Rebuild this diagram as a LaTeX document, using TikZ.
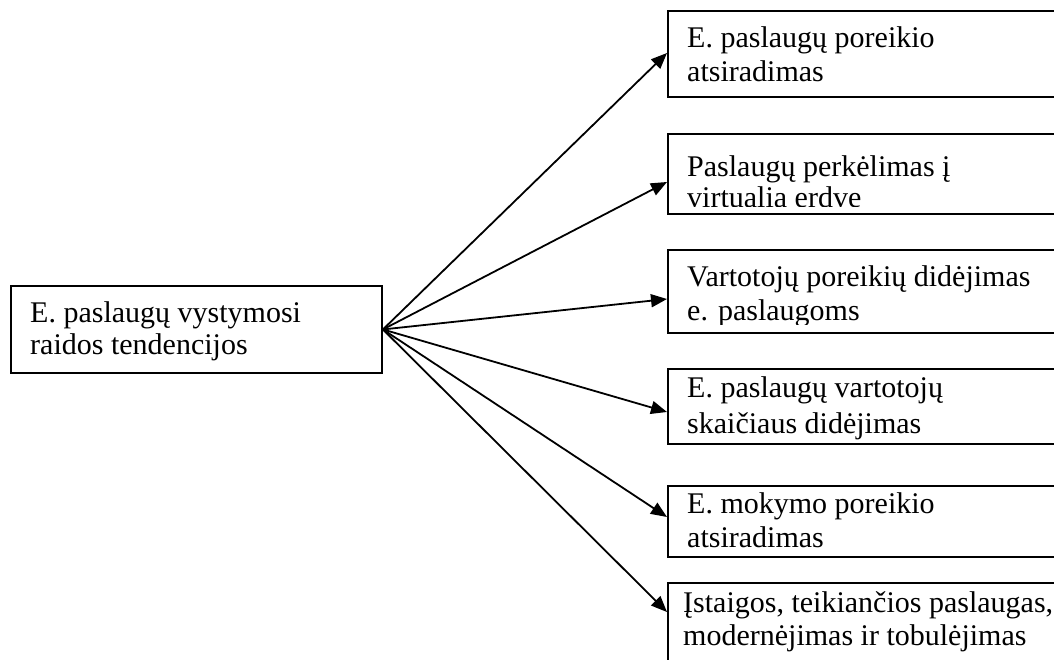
\documentclass[tikz,border=0pt]{standalone}
\usepackage{fontspec}
\setmainfont{Liberation Serif}
\usetikzlibrary{arrows.meta}
\tikzset{
  box/.style={draw, line width=1.9pt, inner sep=0pt, anchor=north west},
  rbox/.style={box, minimum width=403pt},
  txt/.style={inner sep=0pt, anchor=base west, font=\fontsize{30}{34}\selectfont},
  conn/.style={line width=1.8pt, -{Triangle[length=16pt,width=13pt]}}
}
\begin{document}
\begin{tikzpicture}[x=1pt,y=-1pt]
\useasboundingbox (0,0) rectangle (1054,660);
\clip (0,0) rectangle (1054,660);
% source box
\node[box, minimum width=371pt, minimum height=87pt] (src) at (10,285) {};
\node[txt] (s1) at (30,322) {E. paslaugų vystymosi};
\node[txt] (s2) at (30,354) {raidos tendencijos};
% target boxes
\node[rbox, minimum height=86pt] (b1) at (667,10) {};
\node[rbox, minimum height=80pt] (b2) at (667,133) {};
\node[rbox, minimum height=83pt] (b3) at (667,249) {};
\node[rbox, minimum height=75pt] (b4) at (667,368) {};
\node[rbox, minimum height=71pt] (b5) at (667,485) {};
\node[rbox, minimum height=100pt] (b6) at (667,582) {};
% texts
\node[txt] (l1a) at (687,48) {E. paslaugų poreikio};
\node[txt] (l1b) at (687,82) {atsiradimas};
\begin{scope}
  \clip (b2.north west) rectangle ([yshift=8pt]b2.south east);
  \node[txt] (l2a) at (687,177) {Paslaugų perkėlimas į};
  \node[txt] (l2b) at (687,208) {virtualia erdve};
\end{scope}
\begin{scope}
  \clip (b3.north west) rectangle ([yshift=9pt]b3.south east);
  \node[txt] (l3a) at (687,286) {Vartotojų poreikių didėjimas};
  \node[txt] (l3b) at (687,320) {e. paslaugoms};
\end{scope}
\node[txt] (l4a) at (687,397) {E. paslaugų vartotojų};
\node[txt] (l4b) at (687,433) {skaičiaus didėjimas};
\node[txt] (l5a) at (687,513) {E. mokymo poreikio};
\node[txt] (l5b) at (687,547) {atsiradimas};
\node[txt] (l6a) at (683,612) {Įstaigos, teikiančios paslaugas,};
\node[txt] (l6b) at (683,645) {modernėjimas ir tobulėjimas};
% arrow tips
\coordinate (t1) at (667,53);
\coordinate (t2) at (667,182);
\coordinate (t3) at (667,299);
\coordinate (t4) at (667,412);
\coordinate (t5) at (667,517);
\coordinate (t6) at (667,612);
\foreach \t in {t1,t2,t3,t4,t5,t6}
  \draw[conn] (src.east) -- (\t);
\end{tikzpicture}
\end{document}
